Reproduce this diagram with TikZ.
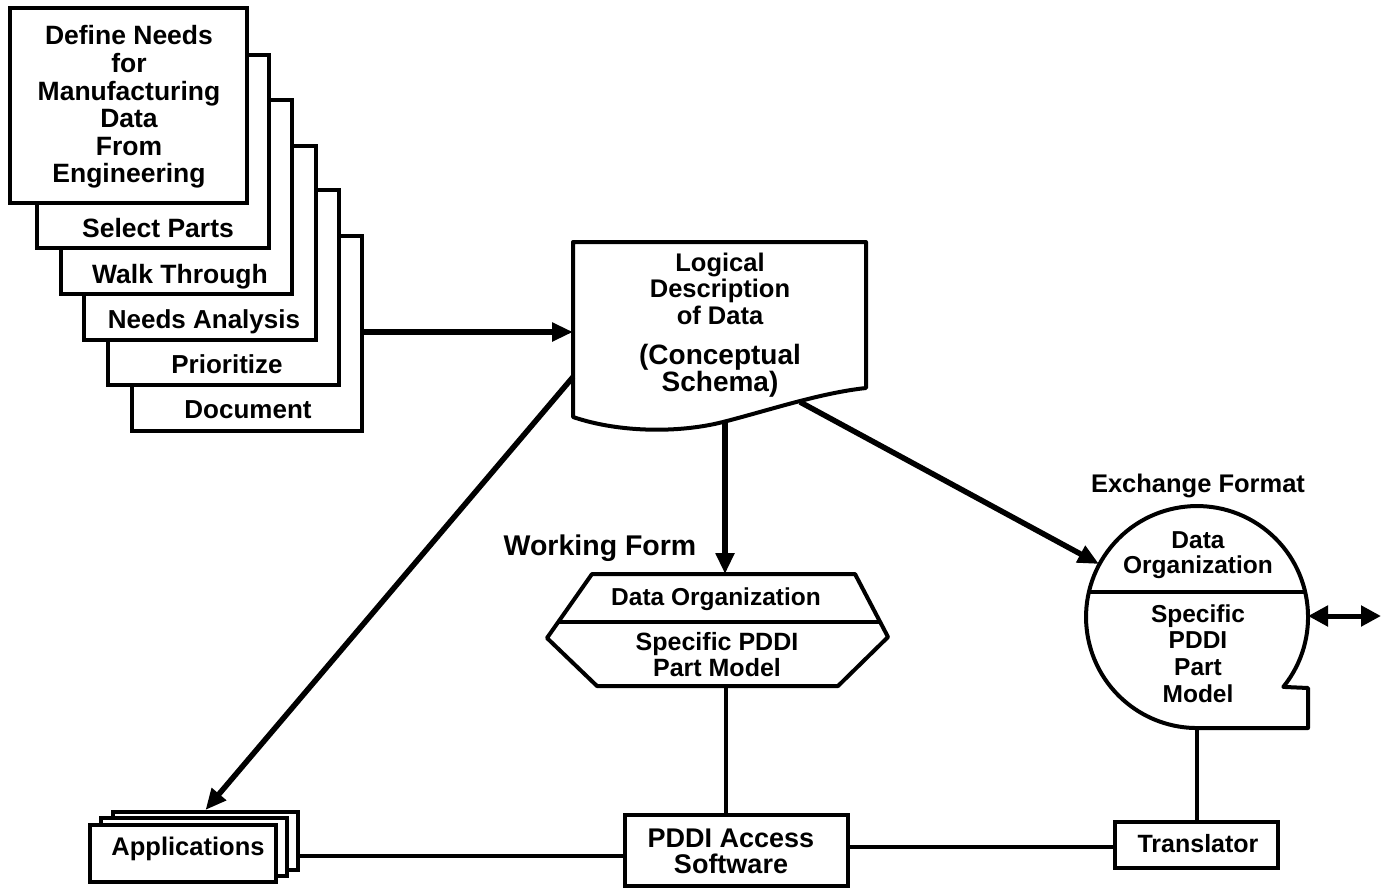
\documentclass[tikz,border=0pt]{standalone}
\usepackage{fontspec}
\setmainfont{Liberation Sans}
\usetikzlibrary{arrows.meta}
% centred lines whose reference point is the baseline of the first line
\newcommand\textstack[2][27.6pt]{\vtop{\baselineskip=#1\halign{\hfil##\hfil\cr#2\crcr}}}

\begin{document}
\begin{tikzpicture}[x=1pt,y=-1pt,
  txt/.style={font=\fontsize{#1}{#1}\selectfont\bfseries, inner sep=0pt, anchor=base},
  txt/.default=24.5,
  frame/.style={draw, line width=4pt, fill=white, rectangle, inner sep=0pt},
  outline/.style={draw, line width=4pt, fill=white, line join=round},
  link/.style={line width=4pt},
  flow/.style={line width=5.5pt, -{Triangle[length=21pt,width=18pt]}},
  both/.style={line width=5pt, {Triangle[length=20pt,width=20pt]}-{Triangle[length=20pt,width=20pt]}}]

\fill[white] (0,0) rectangle (1384,888);
\useasboundingbox (0,0) rectangle (1384,888);

% ---- stacked sheets of the needs definition, back to front
\node[frame, minimum width=230pt, minimum height=195pt] (s6) at (247,333.5) {};
\node[frame, minimum width=231pt, minimum height=195pt] (s5) at (223.5,287.5) {};
\node[frame, minimum width=232pt, minimum height=194pt] (s4) at (200,243) {};
\node[frame, minimum width=231pt, minimum height=194pt] (s3) at (176.5,197) {};
\node[frame, minimum width=232pt, minimum height=193pt] (s2) at (153,151.5) {};
\node[frame, minimum width=237pt, minimum height=195pt] (s1) at (128.5,105.5) {};

\node[txt=26.5] (t1) at (129,45) {\textstack{Define Needs\cr for\cr Manufacturing\cr Data\cr From\cr Engineering}};
\node[txt=26.5] (t2) at (158,237) {Select Parts};
\node[txt=26.5] (t3) at (180,283) {Walk Through};
\node[txt=26] (t4) at (204,328) {Needs Analysis};
\node[txt=26] (t5) at (227,373) {Prioritize};
\node[txt=26] (t6) at (248,418) {Document};

% ---- logical description (document symbol)
\coordinate (ld-nw) at (573,242);
\coordinate (ld-ne) at (866,242);
\coordinate (ld-se) at (866,388);
\coordinate (ld-sw) at (573,417);
\draw[outline] (ld-sw) -- (ld-nw) -- (ld-ne) -- (ld-se)
  .. controls (820,393) and (770,410) .. (723,422)
  .. controls (680,433) and (620,433) .. (ld-sw) -- cycle;
\node[txt=25.5] (ld-a) at (720,271) {\textstack[26.6pt]{Logical\cr Description\cr of Data}};
\node[txt=28] (ld-b) at (720,364) {\textstack[27pt]{(Conceptual\cr Schema)}};

\coordinate (ld-in) at (573,332);
\coordinate (ld-s) at (725,422);
\coordinate (ld-out) at (800,402);
\coordinate (ld-w) at (573,377);

% ---- working form (hexagon)
\coordinate (hx-n) at (725,574);
\coordinate (hx-s) at (726,686);
\draw[outline] (592,574) -- (855,574) -- (888,637) -- (838,686) -- (597,686) -- (547,638) -- cycle;
\draw[link] (558,622) -- (880,622);
\node[txt=28.5] (wf) at (600,555) {Working Form};
\node[txt] (hx-a) at (716,605) {Data Organization};
\node[txt=25] (hx-b) at (717,650) {\textstack[26pt]{Specific PDDI\cr Part Model}};

% ---- exchange format (tape symbol)
\coordinate (xf-in) at (1099,564);
\coordinate (xf-s) at (1196.5,728);
\coordinate (xf-e) at (1308,616);
\coordinate (xf-io) at (1381,616);
\draw[outline] (1283.3,686.9) arc[start angle=39, end angle=-270, radius=111]
  -- (1308,728) -- (1308,688) -- cycle;
\draw[link] (1088.8,592) -- (1305.2,592);
\node[txt=25.5] (ef) at (1198,492) {Exchange Format};
\node[txt] (xf-a) at (1198,548) {\textstack[25pt]{Data\cr Organization}};
\node[txt] (xf-b) at (1198,622) {\textstack[26.7pt]{Specific\cr PDDI\cr Part\cr Model}};

% ---- applications (stacked cards)
\node[frame, minimum width=185pt, minimum height=58pt] (a3) at (205.5,841) {};
\node[frame, minimum width=186pt, minimum height=58pt] (a2) at (194,847) {};
\node[frame, minimum width=186pt, minimum height=57pt] (a1) at (183,853.5) {};
\node[txt=25.5] (a-t) at (188,855) {Applications};
\coordinate (a-out) at (298,856);

% ---- access software and translator
\node[frame, minimum width=223pt, minimum height=71pt] (pa) at (736.5,850.5) {};
\node[txt=27] (pa-t) at (731,847) {\textstack[26pt]{PDDI Access\cr Software}};
\coordinate (pa-out) at (848,847);
\node[frame, minimum width=163pt, minimum height=46pt] (tr) at (1196.5,845) {};
\node[txt=25] (tr-t) at (1198,852) {Translator};

% ---- connectors
\draw[flow] (s6.east |- ld-in) -- (ld-in);
\draw[flow] (ld-s) -- (hx-n);
\draw[flow] (ld-out) -- (xf-in);
\draw[flow] (ld-w) -- (a3.north);
\draw[both] (xf-e) -- (xf-io);
\draw[link] (hx-s) -- (hx-s |- pa.north);
\draw[link] (a-out) -- (a-out -| pa.west);
\draw[link] (pa-out) -- (pa-out -| tr.west);
\draw[link] (tr.north) -- (xf-s);
\end{tikzpicture}
\end{document}
